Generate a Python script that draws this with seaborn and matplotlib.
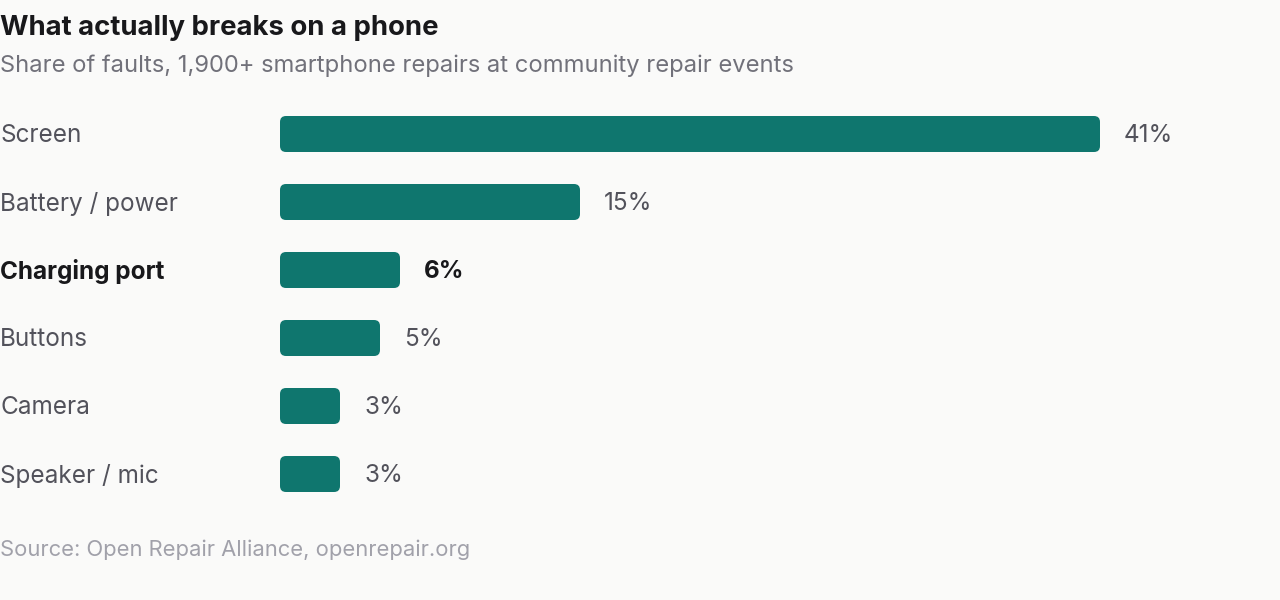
import matplotlib
matplotlib.use("Agg")
import matplotlib.pyplot as plt
import seaborn as sns
import pandas as pd
from matplotlib.patches import FancyBboxPatch

categories = ["Screen", "Battery / power", "Charging port", "Buttons", "Camera", "Speaker / mic"]
values = [41, 15, 6, 5, 3, 3]
highlight = "Charging port"

sns.set_theme(style="white")
plt.rcParams['font.family'] = ['Inter', 'DejaVu Sans']
bg = "#fafaf9"
teal = "#0f766e"

fig = plt.figure(figsize=(12.8, 6), dpi=100, facecolor=bg)
ax = fig.add_axes([280/1280, 1-508/600, 820/1280, 408/600])
ax.set_facecolor(bg)
df = pd.DataFrame({"cat": categories, "val": values})
sns.barplot(data=df, x="val", y="cat", ax=ax, color=teal, width=36/68, saturation=1)
ax.set_xlim(0, 41)
ax.set_ylim(5.5, -0.5)
for p in list(ax.patches):
    x, y, w, h = p.get_x(), p.get_y(), p.get_width(), p.get_height()
    p.remove()
    ax.add_patch(FancyBboxPatch((x, y), w, h, boxstyle="round,pad=0,rounding_size=0.3",
                                mutation_aspect=20/68, fc=teal, ec="none"))
for i, (c, v) in enumerate(zip(categories, values)):
    hb = c == highlight
    ax.text(v + 24/20, i + 2/68, f"{v}%", va="center", ha="left", fontsize=17.5,
            color="#18181b" if hb else "#52525b", fontweight="bold" if hb else "normal")
    fig.text(0/1280, 1-(136+68*i)/600, c, va="center", ha="left", fontsize=17.5,
             color="#18181b" if hb else "#52525b", fontweight="bold" if hb else "normal")
ax.set_axis_off()
fig.text(0, 1-28/600, "What actually breaks on a phone", fontsize=19.8, fontweight="bold",
         color="#18181b", va="center", ha="left")
fig.text(0, 1-66/600, "Share of faults, 1,900+ smartphone repairs at community repair events",
         fontsize=17.1, color="#71717a", va="center", ha="left")
fig.text(0, 1-550/600, "Source: Open Repair Alliance, openrepair.org", fontsize=15.8,
         color="#a1a1aa", va="center", ha="left")
fig.savefig("out.png", dpi=100, facecolor=bg)
